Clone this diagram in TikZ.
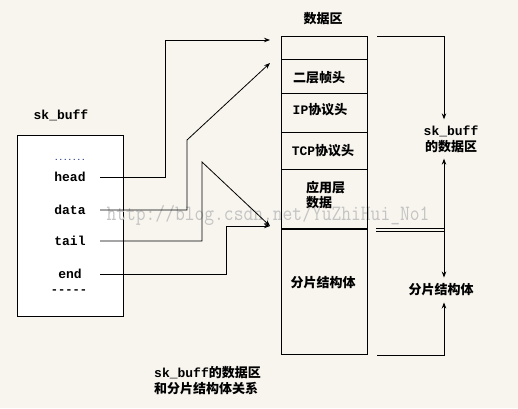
\documentclass[tikz,border=0pt]{standalone}
\usepackage{fontspec}
\setmainfont{Liberation Mono}
\newfontfamily\cjk{Noto Sans CJK SC}
\usetikzlibrary{arrows.meta}
\definecolor{bg}{HTML}{F8F5EE}
\definecolor{ink}{HTML}{000000}
\definecolor{wm}{HTML}{C4C4C4}
\definecolor{dotc}{HTML}{1C2A80}
\newcommand{\zh}[1]{{\cjk #1}}
\tikzset{
  box/.style={draw=ink, fill=white, line width=1pt},
  lnk/.style={draw=ink, line width=0.8pt, -{Stealth[length=6pt,width=4.5pt]}},
  sep/.style={draw=ink, line width=0.8pt},
  lab/.style={text=ink, font=\fontsize{13}{16}\selectfont\bfseries, inner sep=1pt},
  fld/.style={lab, minimum width=60},
  zone/.style={lab, align=center, inner ysep=6pt},
  wmk/.style={text=wm, font=\fontsize{19}{20}\selectfont\ttfamily, inner sep=0pt, yscale=1.15},
}
\begin{document}
\begin{tikzpicture}[x=1pt, y=-1pt]
  \useasboundingbox[fill=bg] (0,0) rectangle (518,408);
  % sk_buff struct
  \node[lab] (skbname) at (61,115) {sk\_buff};
  \node[box, minimum width=106, minimum height=181, anchor=north west] (skb) at (17,135) {};
  \node[wmk] (mark) at (268,215) {http://blog.csdn.net/YuZhiHui\_No1};
  \node[lab, text=dotc, font=\fontsize{7.5}{9}\selectfont\bfseries] (more) at (70,160) {.......};
  \node[fld] (fhead) at (70,177) {head};
  \node[fld] (fdata) at (70,210) {data};
  \node[fld] (ftail) at (70,241) {tail};
  \node[fld] (fend) at (70,274) {end};
  \node[lab, font=\fontsize{12}{14}\selectfont\bfseries] (rest) at (69,292) {{-}{-}{-}{-}{-}};
  % data area
  \node[lab] (title) at (323,19) {\zh{数据区}};
  \node[box, fill=none, minimum width=86, minimum height=318, anchor=north west] (area) at (281,36) {};
  \foreach \y in {59,93,132,169}
    \draw[sep] (281,\y) -- (367,\y);
  \coordinate (split) at (367,229);
  \draw[ink, line width=2pt] (281,229) -- (split);
  \node[lab] (l2) at (319,78) {\zh{二层帧头}};
  \node[lab] (ip) at (320,110) {IP\zh{协议头}};
  \node[lab] (tcp) at (323,151) {TCP\zh{协议头}};
  \node[lab, align=left, anchor=west, font=\fontsize{13}{14}\selectfont\bfseries] (app) at (305,195) {\zh{应用层}\\\zh{数据}};
  \node[lab] (frag) at (323,283) {\zh{分片结构体}};
  % pointer targets
  \coordinate (tHead) at (270,40);
  \coordinate (tData) at (270,63);
  \coordinate (tTail) at (270,226);
  \coordinate (hbend) at (165,40);
  \coordinate (dbend) at (187,140);
  \coordinate (tbend) at (202,162);
  \coordinate (ebend) at (226,226);
  \draw[lnk] (fhead.east) -| (hbend) -- (tHead);
  \draw[lnk] (fdata.east) -| (dbend) -- (tData);
  \draw[lnk] (ftail.east) -| (tbend) -- (tTail);
  \draw[lnk] (fend.east) -| (ebend) -- (tTail);
  % braces on the right
  \node[zone] (skbzone) at (451,139) {sk\_buff\\\zh{的数据区}};
  \node[zone] (fragzone) at (441,290) {\zh{分片结构体}};
  \draw[lnk] ([xshift=9pt]area.north east) -| ([xshift=-7pt]skbzone.north);
  \draw[lnk] ([shift={(9pt,-2pt)}]split) -| ([xshift=-7pt]skbzone.south);
  \draw[lnk] ([shift={(9pt,1pt)}]split) -| ([xshift=3pt]fragzone.north);
  \draw[lnk] ([xshift=9pt]area.south east) -| ([xshift=3pt]fragzone.south);
  \node[lab, align=left, anchor=north west] (caption) at (153,365) {sk\_buff\zh{的数据区}\\\zh{和分片结构体关系}};
\end{tikzpicture}
\end{document}
